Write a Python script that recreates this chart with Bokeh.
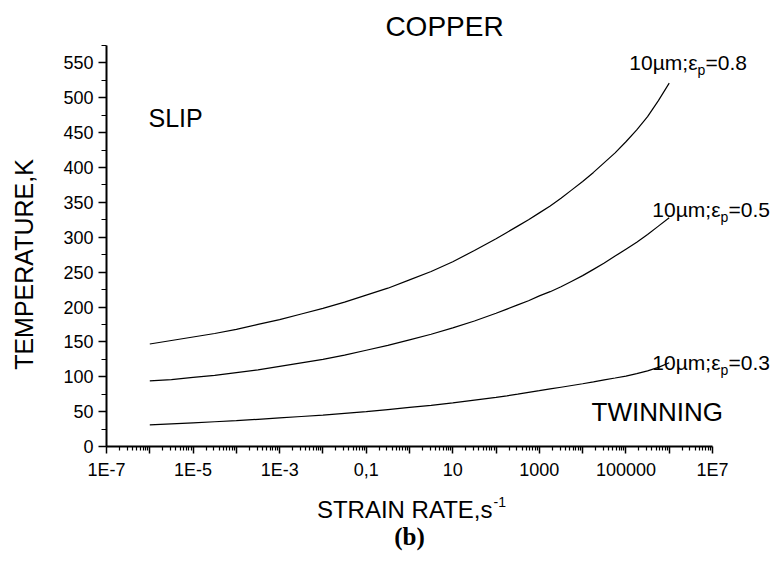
import math
from bokeh.plotting import figure
from bokeh.models import Label, FixedTicker, CustomJSTickFormatter, Range1d
from bokeh.embed import file_html
from bokeh.resources import INLINE

# ---------------- data ----------------
strain_rate = [1e-6, 3.16e-6, 1e-5, 3.16e-5, 1e-4, 3.16e-4, 1e-3, 3.16e-3,
               1e-2, 3.16e-2, 1e-1, 3.16e-1, 1.0, 3.16, 10.0, 31.6, 100.0,
               177.8, 316.0, 562.3, 1000.0, 1778.0, 3162.0, 5623.0, 1e4,
               17783.0, 31623.0, 56234.0, 1e5, 177828.0, 316228.0, 562341.0, 1e6]

temp_eps08 = [147, 152, 157, 162, 168, 175, 182, 190, 198, 207, 217, 227, 239,
              251, 265, 281, 298, 307, 316, 325, 335, 345, 356, 368, 380,
              393, 407, 421, 437, 454, 473, 496, 521]
temp_eps05 = [94, 96, 99, 102, 106, 110, 115, 120, 125, 131, 138, 145, 153,
              161, 170, 180, 191, 197, 203, 209, 216, 222, 229, 237, 245,
              254, 263, 273, 283, 293, 304, 316, 328]
temp_eps03 = [31, 32.5, 34, 35.5, 37, 39, 41, 43, 45, 47.5, 50, 53, 56,
              59, 62.5, 66.5, 70.5, 72.7, 75, 77.5, 80, 82.5, 85, 87.5, 90,
              92.7, 95.5, 98.2, 101, 104.5, 108.5, 113.5, 120]

x_major_ticks = [1e-7, 1e-6, 1e-5, 1e-4, 1e-3, 1e-2, 1e-1, 1, 10, 100, 1e3,
                 1e4, 1e5, 1e6, 1e7]
x_tick_labels = {-7: "1E-7", -5: "1E-5", -3: "1E-3", -1: "0,1", 1: "10",
                 3: "1000", 5: "100000", 7: "1E7"}
y_major_ticks = [0, 50, 100, 150, 200, 250, 300, 350, 400, 450, 500, 550]
y_minor_ticks = [25, 75, 125, 175, 225, 275, 325, 375, 425, 475, 525, 575]
x_min, x_max = 1e-7, 1e7
y_min, y_max = 0, 575

title_text = "COPPER"
x_title = "STRAIN RATE,s"
x_title_sup = "-1"
y_title = "TEMPERATURE,K"
region_slip = "SLIP"
region_twin = "TWINNING"
panel_tag = "(b)"
curve_labels = [("10\u00b5m;\u03b5", "p", "=0.8"),
                ("10\u00b5m;\u03b5", "p", "=0.5"),
                ("10\u00b5m;\u03b5", "p", "=0.3")]

# ---------------- layout ----------------
W, H = 772, 562
FONT = "Liberation Sans"
# canvas pixel positions of the axis box
FL, FR, FT, FB = 106, 712, 45, 446
DEC = (FR - FL) / 14.0          # px per decade
YPX = (FB - FT) / 575.0         # px per kelvin

def px2x(px):
    return 10 ** (-7 + (px - FL) / DEC)

def px2y(py):
    return (FB - py) / YPX

p = figure(width=W, height=H, x_axis_type="log",
           x_range=Range1d(px2x(0), px2x(W)),
           y_range=Range1d(px2y(H), px2y(0)),
           output_backend="svg", toolbar_location=None,
           min_border_left=0, min_border_right=0,
           min_border_top=0, min_border_bottom=0)
p.outline_line_color = None
p.xgrid.visible = False
p.ygrid.visible = False
p.background_fill_color = "white"
p.border_fill_color = "white"

for ys in (temp_eps08, temp_eps05, temp_eps03):
    p.line(strain_rate, ys, line_color="black", line_width=1.2)

# x axis
xminor = []
for e in range(-7, 7):
    for m in range(2, 10):
        xminor.append(m * 10.0 ** e)
xa = p.xaxis[0]
xa.fixed_location = y_min
xa.bounds = (x_min, x_max)
xa.ticker = FixedTicker(ticks=x_major_ticks, minor_ticks=xminor)
xa.formatter = CustomJSTickFormatter(args=dict(lab={str(k): v for k, v in x_tick_labels.items()}), code="""
const e = Math.round(Math.log10(tick));
const s = lab[String(e)];
return s === undefined ? "" : s;
""")
xa.axis_line_width = 2
xa.axis_line_color = "black"
xa.major_tick_in = 0
xa.major_tick_out = 7
xa.minor_tick_in = 0
xa.minor_tick_out = 4
xa.major_tick_line_width = 1.5
xa.minor_tick_line_width = 1.2
xa.major_label_text_font = FONT
xa.major_label_text_font_size = "18px"
xa.major_label_text_color = "black"
xa.major_label_standoff = 6

ya = p.yaxis[0]
ya.fixed_location = x_min
ya.bounds = (y_min, y_max)
ya.ticker = FixedTicker(ticks=y_major_ticks, minor_ticks=y_minor_ticks)
ya.axis_line_width = 2
ya.axis_line_color = "black"
ya.major_tick_in = 0
ya.major_tick_out = 8
ya.minor_tick_in = 0
ya.minor_tick_out = 5
ya.major_tick_line_width = 1.5
ya.minor_tick_line_width = 1.2
ya.major_label_text_font = FONT
ya.major_label_text_font_size = "18px"
ya.major_label_text_color = "black"
ya.major_label_standoff = 5

SHIFT = 0.4  # rendered text sits ~0.4em below the requested baseline


def lab(text, px, py, size, align="left", font=FONT, style="normal", angle=0.0):
    s = SHIFT * size
    if angle:
        px -= s
    else:
        py -= s
    p.add_layout(Label(x=px2x(px), y=px2y(py), text=text, text_font=font,
                       text_font_size=f"{size}px", text_font_style=style,
                       text_align=align, text_baseline="alphabetic",
                       text_color="black", angle=angle))

lab(title_text, 444, 37, 28, align="center")
lab(region_slip, 148, 127, 25)
lab(region_twin, 591, 422, 26)
lab(x_title, 492, 519, 24, align="right")
lab(x_title_sup, 493, 507, 14)
lab(y_title, 33, 264, 25, align="center", angle=math.pi / 2)
lab(panel_tag, 409, 546, 25, align="center", font="Liberation Serif", style="bold")

# curve labels: main text (right-aligned to the subscript), subscript, rest
sub_pos = [(697, 70), (720, 217), (720, 370)]
for (a, b, c), (sx, sy) in zip(curve_labels, sub_pos):
    lab(a, sx, sy, 21, align="right")
    lab(b, sx, sy + 5, 14)
    lab(c, sx + 8, sy, 21)

open("out.html", "w").write(file_html(p, INLINE))
